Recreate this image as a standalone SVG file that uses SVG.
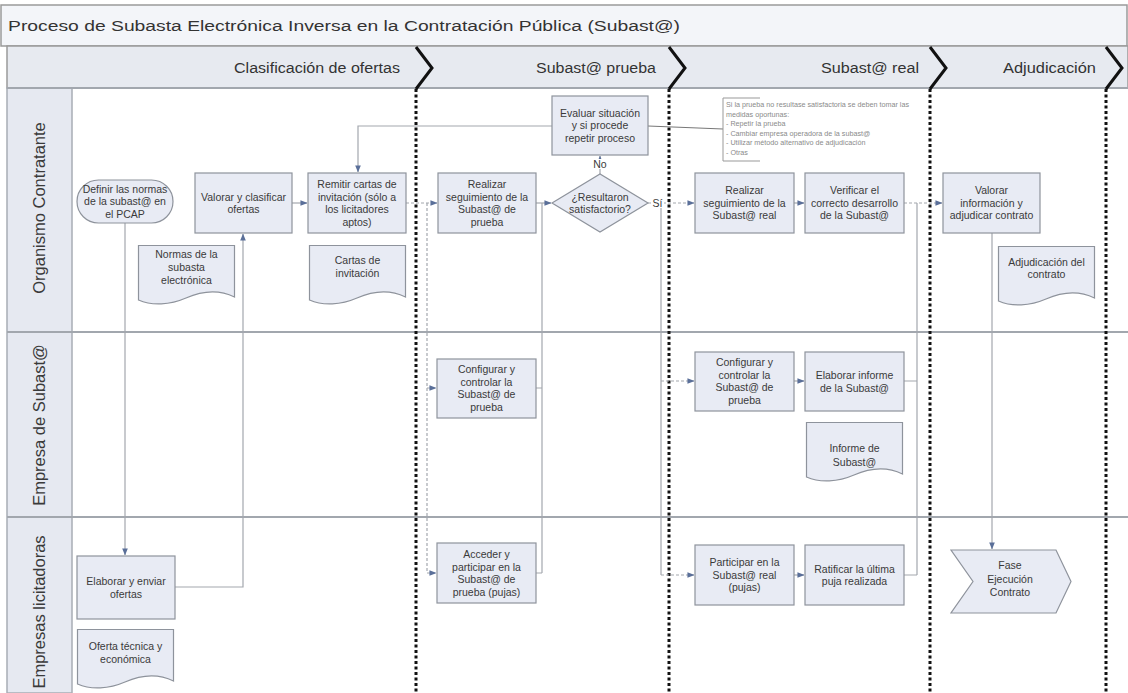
<svg xmlns="http://www.w3.org/2000/svg" xmlns:xlink="http://www.w3.org/1999/xlink" width="1128" height="693" viewBox="0 0 1128 693">
<style>
.box{fill:#e8ebf4;stroke:#8e939c;stroke-width:1.2}
.t{font-family:"Liberation Sans",Arial,sans-serif;font-size:10.5px;fill:#3a3a3a;text-anchor:middle}
.ann{font-family:"Liberation Sans",Arial,sans-serif;font-size:7.2px;fill:#8a8a8a}
.ph{font-family:"Liberation Sans",Arial,sans-serif;font-size:14px;fill:#333}
.lane{font-family:"Liberation Sans",Arial,sans-serif;font-size:16.5px;fill:#3a3a3a;text-anchor:middle}
.c{fill:none;stroke:#a3a7ae;stroke-width:1.2}
.ca{fill:none;stroke:#a3a7ae;stroke-width:1.2;marker-end:url(#arr)}
.cd{fill:none;stroke:#a3a7ae;stroke-width:1.2;stroke-dasharray:3 2}
.cda{fill:none;stroke:#a3a7ae;stroke-width:1.2;stroke-dasharray:3 2;marker-end:url(#arr)}
.div{fill:none;stroke:#111;stroke-width:3;stroke-dasharray:3 2.5}
.chev{fill:none;stroke:#111;stroke-width:3}
.sep{stroke:#a2a7ae;stroke-width:2}
</style>
<defs>
<marker id="arr" viewBox="0 0 8 8" refX="7.5" refY="4" markerWidth="7" markerHeight="7" orient="auto" markerUnits="userSpaceOnUse"><path d="M0,0.8 L8,4 L0,7.2 Z" fill="#5a6f99"/></marker>
<path id="doc" class="box" d="M0.5,0.5 H96.5 V52 C80,44 64,46 48,53 C32,60 14,61 0.5,55 Z"/>
</defs>
<rect x="0" y="0" width="1128" height="693" fill="#fff"/>
<g id="title">
<rect x="1" y="5" width="1126" height="41" fill="#f3f5f9" stroke="#9a9a9a" stroke-width="1.5"/>
<text x="8" y="31" font-family="Liberation Sans, Arial, sans-serif" font-size="15.5" fill="#333" textLength="672" lengthAdjust="spacingAndGlyphs">Proceso de Subasta Electrónica Inversa en la Contratación Pública (Subast@)</text>
</g>
<g id="phases">
<rect x="7" y="46" width="1121" height="42" fill="#e7eaf0" stroke="#9a9a9a" stroke-width="1.5"/>
<text class="ph" x="234" y="73" textLength="166" lengthAdjust="spacingAndGlyphs">Clasificación de ofertas</text>
<text class="ph" x="536" y="73" textLength="120" lengthAdjust="spacingAndGlyphs">Subast@ prueba</text>
<text class="ph" x="821" y="73" textLength="98" lengthAdjust="spacingAndGlyphs">Subast@ real</text>
<text class="ph" x="1003" y="73" textLength="93" lengthAdjust="spacingAndGlyphs">Adjudicación</text>
</g>
<g id="lanes">
<rect x="7" y="88" width="65" height="605" fill="#e6e9f1" stroke="#a8adb5" stroke-width="1.5"/>
<line class="sep" x1="7" y1="88" x2="1128" y2="88"/>
<line class="sep" x1="7" y1="332" x2="1128" y2="332"/>
<line class="sep" x1="7" y1="517" x2="1128" y2="517"/>
<text class="lane" transform="translate(45,208) rotate(-90)">Organismo Contratante</text>
<text class="lane" transform="translate(45,425) rotate(-90)">Empresa de Subast@</text>
<text class="lane" transform="translate(45,612) rotate(-90)">Empresas licitadoras</text>
</g>
<g id="dividers">
<path class="chev" d="M416,47 L432,68 L416,89"/>
<path class="chev" d="M669,47 L685,68 L669,89"/>
<path class="chev" d="M930,47 L946,68 L930,89"/>
<path class="chev" d="M1106,47 L1122,68 L1106,89"/>
<line class="div" x1="416" y1="89" x2="416" y2="693"/>
<line class="div" x1="669" y1="89" x2="669" y2="693"/>
<line class="div" x1="930" y1="89" x2="930" y2="693"/>
<line class="div" x1="1106" y1="89" x2="1106" y2="693"/>
</g>
<g id="connectors">
<path class="ca" d="M125,223 V555"/>
<path class="ca" d="M175,587 H243 V234"/>
<path class="ca" d="M292,203 H307"/>
<path class="ca" d="M552,126 H358 V172"/>
<path class="cda" d="M406,203 H437"/>
<path class="cd" d="M427,203 V573"/>
<path class="cda" d="M427,388 H436"/>
<path class="cda" d="M427,573 H436"/>
<path class="ca" d="M536,203 H551"/>
<path class="c" d="M536,388 H542 M536,573 H542 M542,573 V203"/>
<path class="ca" d="M600,174 V156"/>
<path class="cda" d="M648,203 H694"/>
<path class="c" d="M661,203 V575"/>
<path class="cda" d="M661,381 H694"/>
<path class="cda" d="M661,575 H694"/>
<path class="ca" d="M794,203 H804"/>
<path class="ca" d="M794,381 H804"/>
<path class="ca" d="M794,575 H804"/>
<path class="cda" d="M904,203 H942"/>
<path class="c" d="M904,381 H917 M904,575 H917 M917,575 V203"/>
<path class="ca" d="M992,233 V549"/>
<path fill="none" stroke="#777" stroke-width="1" d="M648,126 L723,129"/>
<rect x="593" y="159" width="14" height="10" fill="#fff"/>
<text class="t" x="600" y="168" font-size="9.5">No</text>
<rect x="651" y="198" width="13" height="10" fill="#fff"/>
<text class="t" x="657.5" y="207" font-size="9.5">Sí</text>
</g>
<g id="definir">
<rect class="box" x="77" y="180" width="96" height="43" rx="21.5"/>
<text class="t" x="125" y="192.7">Definir las normas<tspan x="125" dy="12.5">de la subast@ en</tspan><tspan x="125" dy="12.5">el PCAP</tspan></text>
</g>
<g id="normas">
<use href="#doc" x="138" y="245"/>
<text class="t" x="186.5" y="257.5">Normas de la<tspan x="186.5" dy="13">subasta</tspan><tspan x="186.5" dy="13">electrónica</tspan></text>
</g>
<g id="valorar">
<rect class="box" x="195" y="173" width="97" height="60"/>
<text class="t" x="243.5" y="200.5">Valorar y clasificar<tspan x="243.5" dy="12.5">ofertas</tspan></text>
</g>
<g id="remitir">
<rect class="box" x="308" y="173" width="98" height="60"/>
<text class="t" x="357" y="188">Remitir cartas de<tspan x="357" dy="12.5">invitación (sólo a</tspan><tspan x="357" dy="12.5">los licitadores</tspan><tspan x="357" dy="12.5">aptos)</tspan></text>
</g>
<g id="cartas">
<use href="#doc" x="309" y="245"/>
<text class="t" x="357.5" y="264">Cartas de<tspan x="357.5" dy="13">invitación</tspan></text>
</g>
<g id="realizar-prueba">
<rect class="box" x="438" y="173" width="98" height="60"/>
<text class="t" x="487" y="188">Realizar<tspan x="487" dy="12.5">seguimiento de la</tspan><tspan x="487" dy="12.5">Subast@ de</tspan><tspan x="487" dy="12.5">prueba</tspan></text>
</g>
<g id="decision">
<polygon class="box" points="552,203 600,174 648,203 600,232"/>
<text class="t" x="600" y="200.5">¿Resultaron<tspan x="600" dy="12.5">satisfactorio?</tspan></text>
</g>
<g id="evaluar">
<rect class="box" x="552" y="96" width="96" height="59"/>
<text class="t" x="600" y="116.7">Evaluar situación<tspan x="600" dy="12.5">y si procede</tspan><tspan x="600" dy="12.5">repetir proceso</tspan></text>
</g>
<g id="nota">
<path fill="none" stroke="#999" stroke-width="1" d="M760,98 H723 V161 H760"/>
<text class="ann" x="726" y="107">Si la prueba no resultase satisfactoria se deben tomar las</text>
<text class="ann" x="726" y="116.5">medidas oportunas:</text>
<text class="ann" x="726" y="126">- Repetir la prueba</text>
<text class="ann" x="726" y="135.5">- Cambiar empresa operadora de la subast@</text>
<text class="ann" x="726" y="145">- Utilizar método alternativo de adjudicación</text>
<text class="ann" x="726" y="154.5">- Otras</text>
</g>
<g id="realizar-real">
<rect class="box" x="695" y="173" width="99" height="60"/>
<text class="t" x="744.5" y="194.2">Realizar<tspan x="744.5" dy="12.5">seguimiento de la</tspan><tspan x="744.5" dy="12.5">Subast@ real</tspan></text>
</g>
<g id="verificar">
<rect class="box" x="805" y="173" width="99" height="60"/>
<text class="t" x="854.5" y="194.2">Verificar el<tspan x="854.5" dy="12.5">correcto desarrollo</tspan><tspan x="854.5" dy="12.5">de la Subast@</tspan></text>
</g>
<g id="valorar-info">
<rect class="box" x="943" y="173" width="97" height="60"/>
<text class="t" x="991.5" y="194.2">Valorar<tspan x="991.5" dy="12.5">información y</tspan><tspan x="991.5" dy="12.5">adjudicar contrato</tspan></text>
</g>
<g id="adjudicacion-doc">
<use href="#doc" x="998" y="246"/>
<text class="t" x="1046.5" y="265.5">Adjudicación del<tspan x="1046.5" dy="12.5">contrato</tspan></text>
</g>
<g id="configurar-prueba">
<rect class="box" x="437" y="359" width="99" height="59"/>
<text class="t" x="486.5" y="373">Configurar y<tspan x="486.5" dy="12.5">controlar la</tspan><tspan x="486.5" dy="12.5">Subast@ de</tspan><tspan x="486.5" dy="12.5">prueba</tspan></text>
</g>
<g id="configurar-real">
<rect class="box" x="695" y="352" width="99" height="59"/>
<text class="t" x="744.5" y="366">Configurar y<tspan x="744.5" dy="12.5">controlar la</tspan><tspan x="744.5" dy="12.5">Subast@ de</tspan><tspan x="744.5" dy="12.5">prueba</tspan></text>
</g>
<g id="elaborar-informe">
<rect class="box" x="805" y="352" width="99" height="59"/>
<text class="t" x="854.5" y="379">Elaborar informe<tspan x="854.5" dy="12.5">de la Subast@</tspan></text>
</g>
<g id="informe-doc">
<use href="#doc" x="806" y="422"/>
<text class="t" x="854.5" y="452">Informe de<tspan x="854.5" dy="13.5">Subast@</tspan></text>
</g>
<g id="elaborar-ofertas">
<rect class="box" x="77" y="556" width="98" height="63"/>
<text class="t" x="126" y="585">Elaborar y enviar<tspan x="126" dy="12.5">ofertas</tspan></text>
</g>
<g id="oferta-doc">
<use href="#doc" x="77" y="629"/>
<text class="t" x="125.5" y="649.5">Oferta técnica y<tspan x="125.5" dy="13.5">económica</tspan></text>
</g>
<g id="acceder">
<rect class="box" x="437" y="543" width="99" height="60"/>
<text class="t" x="486.5" y="558">Acceder y<tspan x="486.5" dy="12.5">participar en la</tspan><tspan x="486.5" dy="12.5">Subast@ de</tspan><tspan x="486.5" dy="12.5">prueba (pujas)</tspan></text>
</g>
<g id="participar">
<rect class="box" x="695" y="545" width="99" height="60"/>
<text class="t" x="744.5" y="566.2">Participar en la<tspan x="744.5" dy="12.5">Subast@ real</tspan><tspan x="744.5" dy="12.5">(pujas)</tspan></text>
</g>
<g id="ratificar">
<rect class="box" x="805" y="545" width="99" height="60"/>
<text class="t" x="854.5" y="572.5">Ratificar la última<tspan x="854.5" dy="12.5">puja realizada</tspan></text>
</g>
<g id="fase">
<path class="box" d="M951,550 H1056 L1071,581.5 L1056,613 H951 L973,581.5 Z"/>
<text class="t" x="1010" y="569">Fase<tspan x="1010" dy="13.5">Ejecución</tspan><tspan x="1010" dy="13.5">Contrato</tspan></text>
</g>
</svg>
